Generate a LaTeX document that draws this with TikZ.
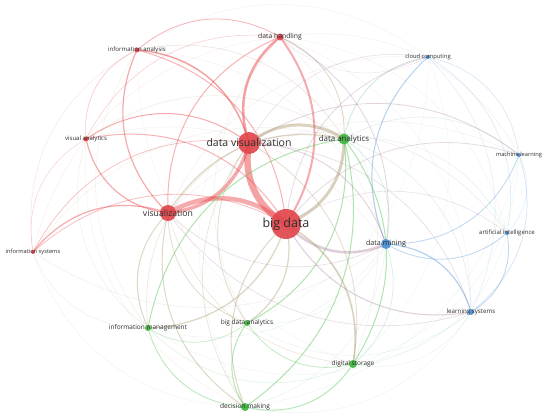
\documentclass[tikz,border=0pt]{standalone}
\usepackage{fontspec}
\setmainfont{Open Sans}
\usepackage{xcolor}
\definecolor{ink}{HTML}{2E2E2E}
\definecolor{redc}{HTML}{E0474C}
\definecolor{greenc}{HTML}{3DB83D}
\definecolor{bluec}{HTML}{4A8FD6}
\definecolor{ecr}{HTML}{EA4449}
\definecolor{ecg}{HTML}{4CC44C}
\definecolor{ecb}{HTML}{5A9BDB}
\colorlet{ecrg}{ecr!50!ecg!80!white}
\colorlet{ecrb}{ecr!50!ecb!85!white}
\colorlet{ecgb}{ecg!50!ecb!85!white}
\usepackage{tikz}
\pgfdeclarelayer{paper}
\pgfdeclarelayer{edges}
\pgfsetlayers{paper,edges,main}

\begin{document}
\begin{tikzpicture}[x=1pt,y=-1pt,every node/.style={text=ink},
  lbl/.style={font=\fontsize{#1pt}{#1pt}\selectfont,text=ink,inner sep=0pt}]
\tikzstyle{kw}=[circle,inner sep=0pt,draw=none,fill opacity=.92]
\begin{pgfonlayer}{paper}
\fill[white] (0,0) rectangle (550,420);
\end{pgfonlayer}
\useasboundingbox (0,0) rectangle (550,420);
% keywords, red cluster
\node[kw,fill=redc,minimum size=30pt,label={[lbl=12.5]center:big data}] (bd) at (286,224) {};
\node[kw,fill=redc,minimum size=22pt,label={[lbl=10.5]center:data visualization}] (dv) at (249,143) {};
\node[kw,fill=redc,minimum size=16pt,label={[lbl=8.7]center:visualization}] (vz) at (168,213) {};
\node[kw,fill=redc,minimum size=7pt,label={[lbl=6.8]center:data handling}] (dh) at (280,37) {};
\node[kw,fill=redc,minimum size=5pt,label={[lbl=6.1]center:information analysis}] (ia) at (137,50) {};
\node[kw,fill=redc,minimum size=5pt,label={[lbl=6]center:visual analytics}] (va) at (86,139) {};
\node[kw,fill=redc,minimum size=4pt,label={[lbl=5.7]center:information systems}] (is) at (33,252) {};
% green cluster
\node[kw,fill=greenc,minimum size=11pt,label={[lbl=7.9]center:data analytics}] (da) at (344,139) {};
\node[kw,fill=greenc,minimum size=6pt,label={[lbl=6.5]center:information management}] (im) at (148,328) {};
\node[kw,fill=greenc,minimum size=6pt,label={[lbl=6.5]center:big data analytics}] (bda) at (247,323) {};
\node[kw,fill=greenc,minimum size=8pt,label={[lbl=6.5]center:digital storage}] (ds) at (353,364) {};
\node[kw,fill=greenc,minimum size=8pt,label={[lbl=6.6]center:decision making}] (dmk) at (245,407) {};
% blue cluster
\node[kw,fill=bluec,minimum size=10pt,label={[lbl=7.2]center:data mining}] (dm) at (386,244) {};
\node[kw,fill=bluec,minimum size=4pt,label={[lbl=5.8]center:cloud computing}] (cc) at (428,57) {};
\node[kw,fill=bluec,minimum size=4pt,label={[lbl=5.7]center:machine learning}] (ml) at (519,155) {};
\node[kw,fill=bluec,minimum size=4pt,label={[lbl=6]center:artificial intelligence}] (ai) at (507,233) {};
\node[kw,fill=bluec,minimum size=6pt,label={[lbl=6.2]center:learning systems}] (ls) at (471,312) {};
% co-occurrence links
\begin{pgfonlayer}{edges}
\foreach \a/\b/\w/\o/\c in {
  bd/dv/6.5/.5/ecr, vz/bd/4.5/.45/ecr, dv/vz/3.5/.45/ecr, da/bd/3/.45/ecrg,
  dv/da/3/.45/ecrg, dv/dh/2.5/.5/ecr, dh/bd/2/.45/ecr, dm/bd/2.5/.4/ecrb,
  bd/ds/1.6/.45/ecrg, ia/dv/1.5/.5/ecr, vz/ia/1.2/.45/ecr, vz/va/1.2/.45/ecr,
  va/dv/1/.45/ecr, is/vz/1.2/.45/ecr, vz/da/1.2/.4/ecrg, bd/bda/1.2/.4/ecrg,
  dmk/bd/1/.4/ecrg, im/vz/1/.4/ecrg, dmk/vz/1/.4/ecrg, bd/im/1.3/.4/ecrg,
  da/dmk/1/.45/ecg, da/bda/1/.45/ecg, im/da/1/.45/ecg, da/ds/1/.45/ecg,
  dm/ls/1.2/.45/ecb, dm/cc/1/.45/ecb, ml/dm/.8/.4/ecb, ai/dm/.8/.4/ecb,
  ls/bd/1/.4/ecrb, dv/dm/1/.35/ecrb, bd/cc/.8/.3/ecrb, bd/ml/.8/.3/ecrb,
  ai/ls/.8/.4/ecb, ml/ls/.6/.3/ecb, cc/ml/.6/.25/ecb, cc/ai/.5/.25/ecb,
  vz/dh/1/.4/ecr, ia/dh/.8/.4/ecr, ia/bd/1/.4/ecr, va/bd/1/.4/ecr,
  is/bd/.8/.35/ecr, is/dv/.7/.35/ecr, va/ia/.6/.3/ecr, is/va/.5/.25/ecr,
  ds/dmk/1/.4/ecg, dmk/bda/1/.4/ecg, dmk/im/.8/.4/ecg, bda/im/.6/.35/ecg,
  ds/bda/.8/.35/ecg, dm/ds/.6/.3/ecgb, dv/ds/.8/.35/ecrg, bda/dv/.8/.35/ecrg,
  dmk/dv/.6/.3/ecrg, dh/da/.8/.4/ecrg, da/cc/.8/.35/ecgb, da/dm/.6/.3/ecgb,
  da/ml/.5/.25/ecgb, da/ls/.5/.25/ecgb, dv/ls/.6/.3/ecrb, dv/ml/.8/.35/ecrb,
  dm/vz/.6/.3/ecrb, ls/vz/.6/.3/ecrb, dh/dm/.8/.35/ecrb, cc/dh/.5/.2/ecrb,
  dh/ml/.4/.15/ecrb, ia/cc/.4/.12/ecrb, im/is/.5/.15/ecrg, dmk/is/.5/.12/ecrg,
  is/da/.5/.15/ecrg, im/va/.5/.15/ecrg, dmk/va/.5/.12/ecrg, im/ia/.5/.15/ecrg,
  ds/im/.5/.2/ecg, ls/im/.5/.12/ecgb, ls/dmk/.5/.12/ecgb, ls/ds/.5/.15/ecgb,
  ai/ds/.5/.12/ecgb, ml/ds/.5/.12/ecgb, ls/bda/.5/.15/ecgb, dm/bda/.5/.15/ecgb,
  ml/dmk/.5/.12/ecgb, ml/ai/.5/.2/ecb, bd/ai/.6/.25/ecrb, dm/is/.5/.15/ecrb,
  ia/da/.6/.25/ecrg, va/da/.5/.2/ecrg, dh/ai/.4/.12/ecrb, dh/ls/.4/.12/ecrb,
  is/ia/.5/.15/ecr, va/dh/.6/.25/ecr, is/dh/.4/.12/ecr, bda/vz/.8/.35/ecrg,
  im/dv/.6/.25/ecrg, ds/vz/.6/.25/ecrg, cc/ls/.5/.2/ecb, cc/ds/.4/.12/ecgb,
  da/ai/.5/.2/ecgb, dm/im/.5/.15/ecgb, dm/dmk/.5/.15/ecgb, cc/bda/.4/.12/ecgb,
  ds/ia/.4/.12/ecrg, dh/ds/.5/.15/ecrg, bda/dh/.5/.15/ecrg, dmk/dh/.4/.12/ecrg,
  vz/ml/.4/.15/ecrb, vz/cc/.4/.15/ecrb, dv/cc/.6/.25/ecrb, dv/ai/.5/.2/ecrb,
  va/dm/.4/.15/ecrb, ia/dm/.4/.15/ecrb}
  \draw[line width=\w pt,draw=\c,draw opacity=\o,line cap=round] (\a.center) to[bend left=35] (\b.center);
\end{pgfonlayer}
\end{tikzpicture}
\end{document}
